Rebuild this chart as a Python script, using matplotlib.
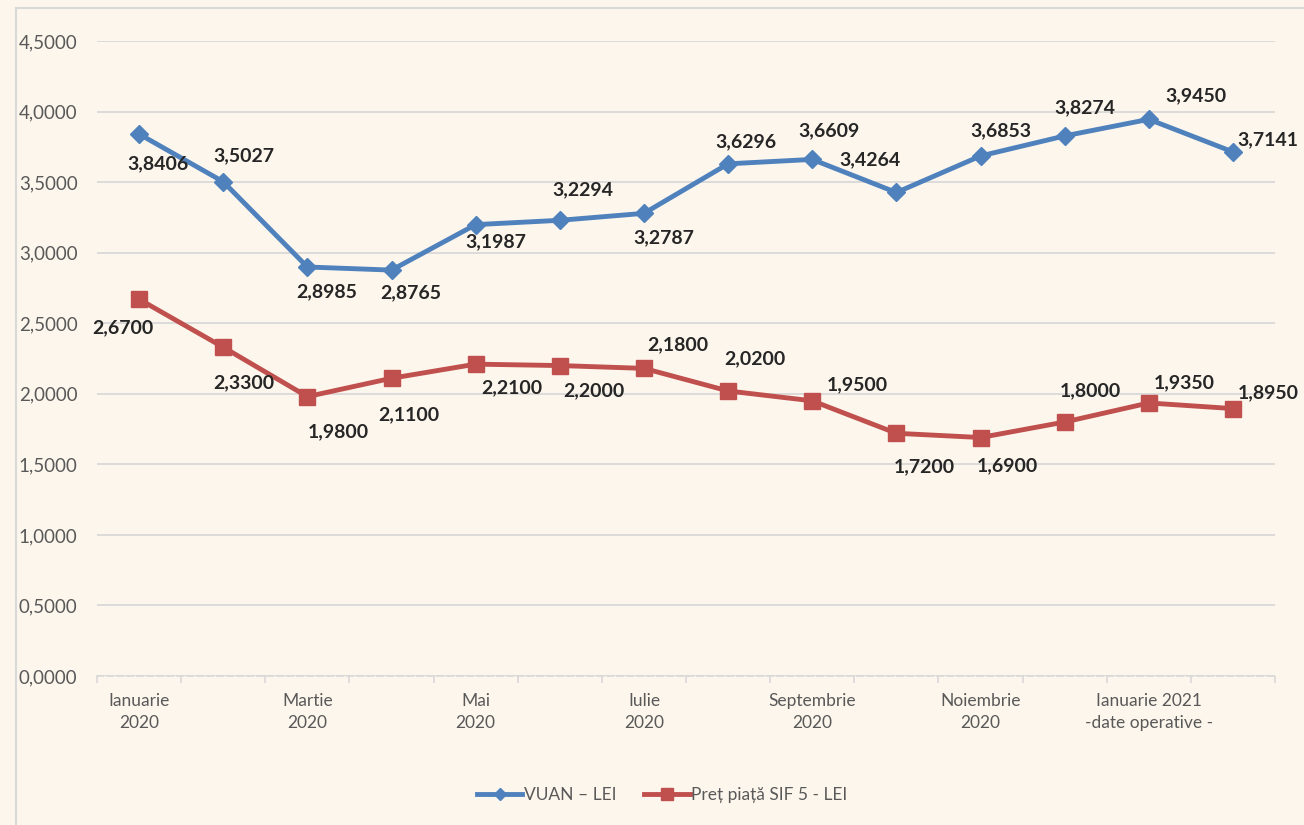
import matplotlib.pyplot as plt
from matplotlib.lines import Line2D
from matplotlib.ticker import FuncFormatter

# Date grafic
luni = ["Ianuarie\n2020", "Februarie 2020", "Martie\n2020", "Aprilie 2020", "Mai\n2020",
        "Iunie 2020", "Iulie\n2020", "August 2020", "Septembrie\n2020", "Octombrie 2020",
        "Noiembrie\n2020", "Decembrie 2020", "Ianuarie 2021\n-date operative -", "Februarie 2021"]
vuan = [3.8406, 3.5027, 2.8985, 2.8765, 3.1987, 3.2294, 3.2787, 3.6296, 3.6609, 3.4264,
        3.6853, 3.8274, 3.9450, 3.7141]
pret_sif5 = [2.6700, 2.3300, 1.9800, 2.1100, 2.2100, 2.2000, 2.1800, 2.0200, 1.9500, 1.7200,
             1.6900, 1.8000, 1.9350, 1.8950]

# pozitia etichetelor (offset in pixeli)
off_vuan = [(19, -30), (21, 26), (19, -25), (19, -23), (20, -17), (23, 31), (20, -24),
            (18, 22), (17, 29), (-26, 33), (20, 25), (20, 28), (47, 24), (35, 12)]
off_sif = [(-16, -29), (21, -36), (31, -35), (17, -36), (36, -24), (34, -25), (34, 24),
           (27, 32), (45, 16), (28, -33), (27, -28), (26, 31), (35, 20), (35, 16)]

albastru = "#4F81BD"
rosu = "#C0504D"
fundal = "#FDF6EC"
gri = "#595959"

plt.rcParams['font.family'] = ['Lato', 'DejaVu Sans']

fig = plt.figure(figsize=(13.04, 8.25), dpi=100, facecolor=fundal)
ax = fig.add_axes([0.0744, 0.1806, 0.9034, 0.7697], facecolor=fundal)

x = list(range(len(luni)))
ax.plot(x, vuan, color=albastru, lw=3.5, marker="D", ms=9, zorder=3)
ax.plot(x, pret_sif5, color=rosu, lw=3.5, marker="s", ms=11, zorder=3)

def fmt(v):
    return f"{v:.4f}".replace(".", ",")

for i, v in enumerate(vuan):
    ax.annotate(fmt(v), (i, v), xytext=off_vuan[i], textcoords="offset pixels",
                ha="center", va="center", fontsize=14, fontweight="bold", color="#262626")
for i, v in enumerate(pret_sif5):
    ax.annotate(fmt(v), (i, v), xytext=off_sif[i], textcoords="offset pixels",
                ha="center", va="center", fontsize=14, fontweight="bold", color="#262626")

ax.set_ylim(0, 4.5)
ax.set_xlim(-0.5, 13.5)
ax.set_yticks([i * 0.5 for i in range(10)])
ax.yaxis.set_major_formatter(FuncFormatter(lambda v, p: fmt(v)))
ax.tick_params(axis="y", length=0, labelsize=13.5, labelcolor=gri, pad=14)
ax.grid(axis="y", color="#D9D9D9", lw=1.3)
ax.set_axisbelow(True)

ax.set_xticks(x[::2])
ax.set_xticklabels(luni[::2], fontsize=12.5, color=gri, linespacing=1.5)
ax.tick_params(axis="x", which="major", length=0, pad=12)
ax.set_xticks([i - 0.5 for i in range(len(luni) + 1)], minor=True)
ax.tick_params(axis="x", which="minor", length=5, color="#D9D9D9", width=1.2, direction="out")

for s in ["top", "right", "left"]:
    ax.spines[s].set_visible(False)
ax.spines["bottom"].set_color("#D9D9D9")
ax.spines["bottom"].set_linestyle((0, (4, 2)))
ax.spines["bottom"].set_linewidth(1.2)

h = [Line2D([], [], color=albastru, lw=3.5, marker="D", ms=6),
     Line2D([], [], color=rosu, lw=3.5, marker="s", ms=8)]
fig.legend(h, ["VUAN – LEI", "Preț piață SIF 5 - LEI"], loc="center", bbox_to_anchor=(0.508, 0.036),
           ncol=2, frameon=False, fontsize=12.5, labelcolor=gri, handlelength=2.6,
           handletextpad=0.1, columnspacing=1.6)

# chenar
fig.add_artist(Line2D([16 / 1304, 16 / 1304], [0, 1 - 8 / 825], transform=fig.transFigure,
                      color="#D9D9D9", lw=1.5))
fig.add_artist(Line2D([16 / 1304, 1], [1 - 8 / 825, 1 - 8 / 825], transform=fig.transFigure,
                      color="#D9D9D9", lw=1.5))

fig.savefig("out.png", dpi=100, facecolor=fundal)
